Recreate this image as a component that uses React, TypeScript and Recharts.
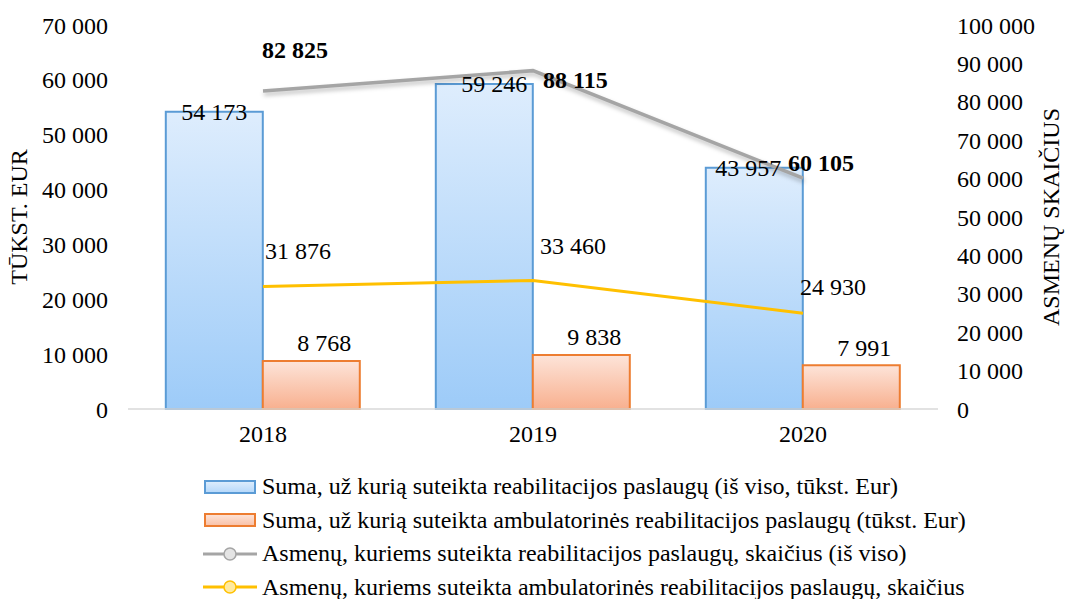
import { ComposedChart, Bar, Line, XAxis, YAxis, Legend, LabelList } from 'recharts'

const years = ['2018', '2019', '2020']
const sumTotal = [54173, 59246, 43957]
const sumAmbulatory = [8768, 9838, 7991]
const personsTotal = [82825, 88115, 60105]
const personsAmbulatory = [31876, 33460, 24930]
const leftTicks = [0, 10000, 20000, 30000, 40000, 50000, 60000, 70000]
const rightTicks = [0, 10000, 20000, 30000, 40000, 50000, 60000, 70000, 80000, 90000, 100000]

const legendNames = [
  'Suma, už kurią suteikta reabilitacijos paslaugų (iš viso, tūkst. Eur)',
  'Suma, už kurią suteikta ambulatorinės reabilitacijos paslaugų (tūkst. Eur)',
  'Asmenų, kuriems suteikta reabilitacijos paslaugų, skaičius (iš viso)',
  'Asmenų, kuriems suteikta ambulatorinės reabilitacijos paslaugų, skaičius',
]

// label nudges, per year (Excel placed them by hand)
const blueLabelDx = [0, 10, -6]
const greyLabelOffset = [[-1, -41], [10, 9], [-15, -16]]
const yellowLabelOffset = [[2, -36], [7, -35], [-3, -27]]

const data = years.map((y, i) => ({
  year: y,
  sumTotal: sumTotal[i],
  sumAmbulatory: sumAmbulatory[i],
  personsTotal: personsTotal[i],
  personsAmbulatory: personsAmbulatory[i],
}))

const FONT = '"Liberation Serif", "Times New Roman", serif'
const FS = 24

const fmt = (v: number) => String(v).replace(/\B(?=(\d{3})+(?!\d))/g, ' ')

const blueLabel = (p: any) => (
  <text x={p.x + p.width / 2 + blueLabelDx[p.index]} y={p.y} dy="0.35em" textAnchor="middle"
    fontFamily={FONT} fontSize={FS} fill="#000">{fmt(p.value)}</text>
)

const orangeLabel = (p: any) => (
  <text x={p.x + p.width / 2 + 13} y={p.y - 18} dy="0.35em" textAnchor="middle"
    fontFamily={FONT} fontSize={FS} fill="#000">{fmt(p.value)}</text>
)

const greyLabel = (p: any) => {
  const [dx, dy] = greyLabelOffset[p.index]
  return (
    <text x={p.x + dx} y={p.y + dy} dy="0.35em" textAnchor="start"
      fontFamily={FONT} fontSize={FS} fontWeight="bold" fill="#000">{fmt(p.value)}</text>
  )
}

const yellowLabel = (p: any) => {
  const [dx, dy] = yellowLabelOffset[p.index]
  return (
    <text x={p.x + dx} y={p.y + dy} dy="0.35em" textAnchor="start"
      fontFamily={FONT} fontSize={FS} fill="#000">{fmt(p.value)}</text>
  )
}

function LegendBox() {
  const markers = [
    <rect x={2} y={4} width={50} height={12} fill="url(#gBlue)" stroke="#5b9bd5" strokeWidth={2} />,
    <rect x={2} y={4} width={50} height={12} fill="url(#gOrange)" stroke="#ed7d31" strokeWidth={2} />,
    <g>
      <line x1={0} y1={10} x2={54} y2={10} stroke="#a5a5a5" strokeWidth={3} />
      <circle cx={27} cy={10} r={6} fill="#e4e4e4" stroke="#a5a5a5" strokeWidth={1.5} />
    </g>,
    <g>
      <line x1={0} y1={10} x2={54} y2={10} stroke="#ffc000" strokeWidth={3} />
      <circle cx={27} cy={10} r={6} fill="#ffeaa0" stroke="#ffc000" strokeWidth={1.5} />
    </g>,
  ]
  return (
    <div style={{ paddingLeft: 203, textAlign: 'left' }}>
      {legendNames.map((n, i) => (
        <div key={n} style={{ display: 'flex', alignItems: 'center', height: 33.5 }}>
          <svg width={56} height={20} style={{ marginRight: 3 }}>
            <defs>
              <linearGradient id="gBlue" x1="0" y1="0" x2="0" y2="1">
                <stop offset="0%" stopColor="#dfeefd" />
                <stop offset="100%" stopColor="#b4d7fa" />
              </linearGradient>
              <linearGradient id="gOrange" x1="0" y1="0" x2="0" y2="1">
                <stop offset="0%" stopColor="#fde5da" />
                <stop offset="100%" stopColor="#f9c0a6" />
              </linearGradient>
            </defs>
            {markers[i]}
          </svg>
          <span style={{ fontFamily: FONT, fontSize: FS, color: '#000', whiteSpace: 'nowrap' }}>{n}</span>
        </div>
      ))}
    </div>
  )
}

export default function App() {
  return (
    <div style={{ position: 'absolute', left: 0, top: 0, width: 1072, height: 599, background: '#fff' }}>
      <ComposedChart width={1072} height={599} data={data}
        margin={{ top: 25, right: 0, bottom: 0, left: 0 }}
        barCategoryGap="14%" barGap={0}>
        <defs>
          <linearGradient id="barBlue" x1="0" y1="0" x2="0" y2="1">
            <stop offset="0%" stopColor="#deedfd" />
            <stop offset="100%" stopColor="#9dcbf8" />
          </linearGradient>
          <linearGradient id="barOrange" x1="0" y1="0" x2="0" y2="1">
            <stop offset="0%" stopColor="#fde4d9" />
            <stop offset="100%" stopColor="#f8b08f" />
          </linearGradient>
        </defs>
        <XAxis dataKey="year" height={61} tickLine={false} tickSize={0} tickMargin={16}
          axisLine={{ stroke: '#d9d9d9', strokeWidth: 1.5 }}
          tick={{ fontFamily: FONT, fontSize: FS, fill: '#000' }} />
        <YAxis yAxisId="left" width={128} domain={[0, 70000]} ticks={leftTicks}
          axisLine={false} tickLine={false} tickSize={0} tickMargin={20} tickFormatter={fmt}
          tick={{ fontFamily: FONT, fontSize: FS, fill: '#000' }}
          label={{ value: 'TŪKST. EUR', angle: -90, position: 'center', dx: -46, style: { fontFamily: FONT, fontSize: FS, fill: '#000' } }} />
        <YAxis yAxisId="right" orientation="right" width={134} domain={[0, 100000]} ticks={rightTicks}
          axisLine={false} tickLine={false} tickSize={0} tickMargin={19} tickFormatter={fmt}
          tick={{ fontFamily: FONT, fontSize: FS, fill: '#000', textAnchor: 'start' }}
          label={{ value: 'ASMENŲ SKAIČIUS', angle: -90, position: 'center', dx: 45, style: { fontFamily: FONT, fontSize: FS, fill: '#000' } }} />
        <Legend verticalAlign="bottom" height={129} content={() => <LegendBox />} />
        <Bar yAxisId="left" dataKey="sumTotal" fill="url(#barBlue)" stroke="#5b9bd5" strokeWidth={2}
          isAnimationActive={false}>
          <LabelList dataKey="sumTotal" content={blueLabel} />
        </Bar>
        <Bar yAxisId="left" dataKey="sumAmbulatory" fill="url(#barOrange)" stroke="#ed7d31" strokeWidth={2}
          isAnimationActive={false}>
          <LabelList dataKey="sumAmbulatory" content={orangeLabel} />
        </Bar>
        <Line yAxisId="right" dataKey="personsTotal" stroke="#a5a5a5" strokeWidth={3.5} dot={false}
          activeDot={false} isAnimationActive={false} style={{ filter: 'drop-shadow(1px 3px 2px rgba(0,0,0,0.25))' }}>
          <LabelList dataKey="personsTotal" content={greyLabel} />
        </Line>
        <Line yAxisId="right" dataKey="personsAmbulatory" stroke="#ffc000" strokeWidth={3} dot={false}
          activeDot={false} isAnimationActive={false}>
          <LabelList dataKey="personsAmbulatory" content={yellowLabel} />
        </Line>
      </ComposedChart>
    </div>
  )
}
